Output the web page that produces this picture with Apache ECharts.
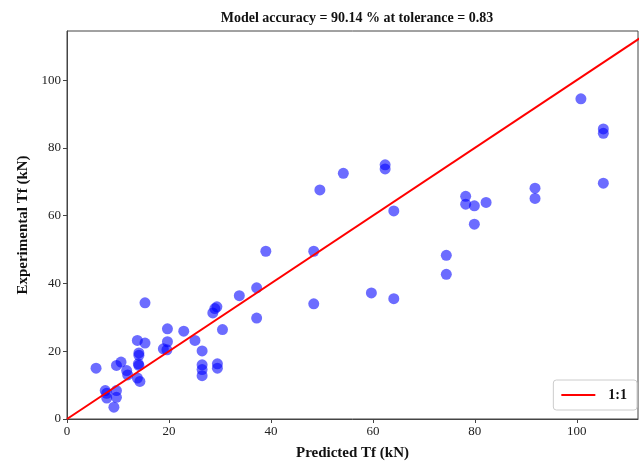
<!DOCTYPE html>
<html>
<head>
<meta charset="utf-8">
<script src="https://cdn.jsdelivr.net/npm/echarts@6/dist/echarts.min.js"></script>
<style>html,body{margin:0;padding:0;background:#fff}#c{width:640px;height:470px}</style>
</head>
<body>
<div id="c"></div>
<script>
var titleText = 'Model accuracy = 90.14 % at tolerance = 0.83';
var xLabel = 'Predicted Tf (kN)';
var yLabel = 'Experimental Tf (kN)';
var lineName = '1:1';
var predicted = [5.7,7.5,7.8,7.8,9.7,9.7,9.2,9.7,10.6,11.7,11.9,13.8,15.3,14.1,14.1,14.0,14.1,13.8,14.3,15.3,
  19.7,19.7,18.9,19.6,22.9,25.1,26.5,26.5,26.5,26.5,29.5,29.5,28.6,29.0,29.4,30.5,33.8,37.2,37.2,39.0,
  48.4,48.4,49.6,54.2,62.4,62.4,64.1,59.7,64.1,74.4,74.4,78.2,78.2,79.9,79.9,82.2,91.8,91.8,100.8,105.2,105.2,105.2];
var experimental = [15.0,8.4,7.6,6.2,8.4,6.4,3.5,15.8,16.8,14.3,13.0,23.2,22.4,19.5,18.8,16.3,15.8,12.1,11.1,34.3,
  26.6,22.8,20.7,20.4,25.9,23.2,20.1,16.0,14.6,12.8,16.3,15.0,31.3,32.6,33.1,26.4,36.4,38.7,29.8,49.5,
  49.5,34.0,67.6,72.5,75.0,73.8,61.4,37.2,35.5,48.3,42.7,65.7,63.4,62.9,57.5,63.9,68.1,65.1,94.5,85.6,84.3,69.6];
var lineX = [0, 120];
var lineY = [0, 120];

var pts = predicted.map(function (v, i) { return [v, experimental[i]]; });
var linePts = lineX.map(function (v, i) { return [v, lineY[i]]; });

var chart = echarts.init(document.getElementById('c'), null, {renderer: 'canvas'});
var font = '"Liberation Serif", "DejaVu Serif", serif';
var axisCommon = {
  type: 'value', min: 0, interval: 20,
  axisLine: {show: true, onZero: false, lineStyle: {color: '#444', width: 1}},
  axisTick: {show: true, length: 4, lineStyle: {color: '#444'}},
  splitLine: {show: false},
  axisLabel: {color: '#222', fontFamily: font, fontSize: 13, showMaxLabel: false, margin: 6},
  nameLocation: 'middle',
  nameTextStyle: {fontFamily: font, fontWeight: 'bold', fontSize: 15, color: '#111'}
};
chart.setOption({
  animation: false,
  title: {text: titleText, left: 352, top: 6, textAlign: 'center',
    textStyle: {fontFamily: font, fontWeight: 'bold', fontSize: 14, color: '#111'}},
  grid: {left: 67, right: 2, top: 31, bottom: 51, show: true, borderColor: '#444', borderWidth: 1, backgroundColor: 'transparent'},
  xAxis: Object.assign({}, axisCommon, {max: 112, name: xLabel, nameGap: 27}),
  yAxis: Object.assign({}, axisCommon, {max: 114.5, name: yLabel, nameGap: 36}),
  legend: {
    data: [{name: lineName, icon: 'rect'}], right: 3, bottom: 60, orient: 'vertical',
    backgroundColor: '#fff', borderColor: '#ccc', borderWidth: 1, borderRadius: 3,
    padding: [8, 10, 8, 8], itemWidth: 34, itemHeight: 2, itemGap: 6,
    textStyle: {fontFamily: font, fontWeight: 'bold', fontSize: 14, color: '#111', padding: [0, 0, 0, 8]}
  },
  series: [
    {type: 'scatter', name: 'data', data: pts, symbolSize: 11,
      itemStyle: {color: 'rgba(0,0,255,0.72)', borderWidth: 0}, z: 3},
    {type: 'line', name: lineName, data: linePts, symbol: 'none', clip: true,
      lineStyle: {color: '#ff0000', width: 2}, itemStyle: {color: '#ff0000'}, z: 4}
  ]
});
</script>
</body>
</html>
